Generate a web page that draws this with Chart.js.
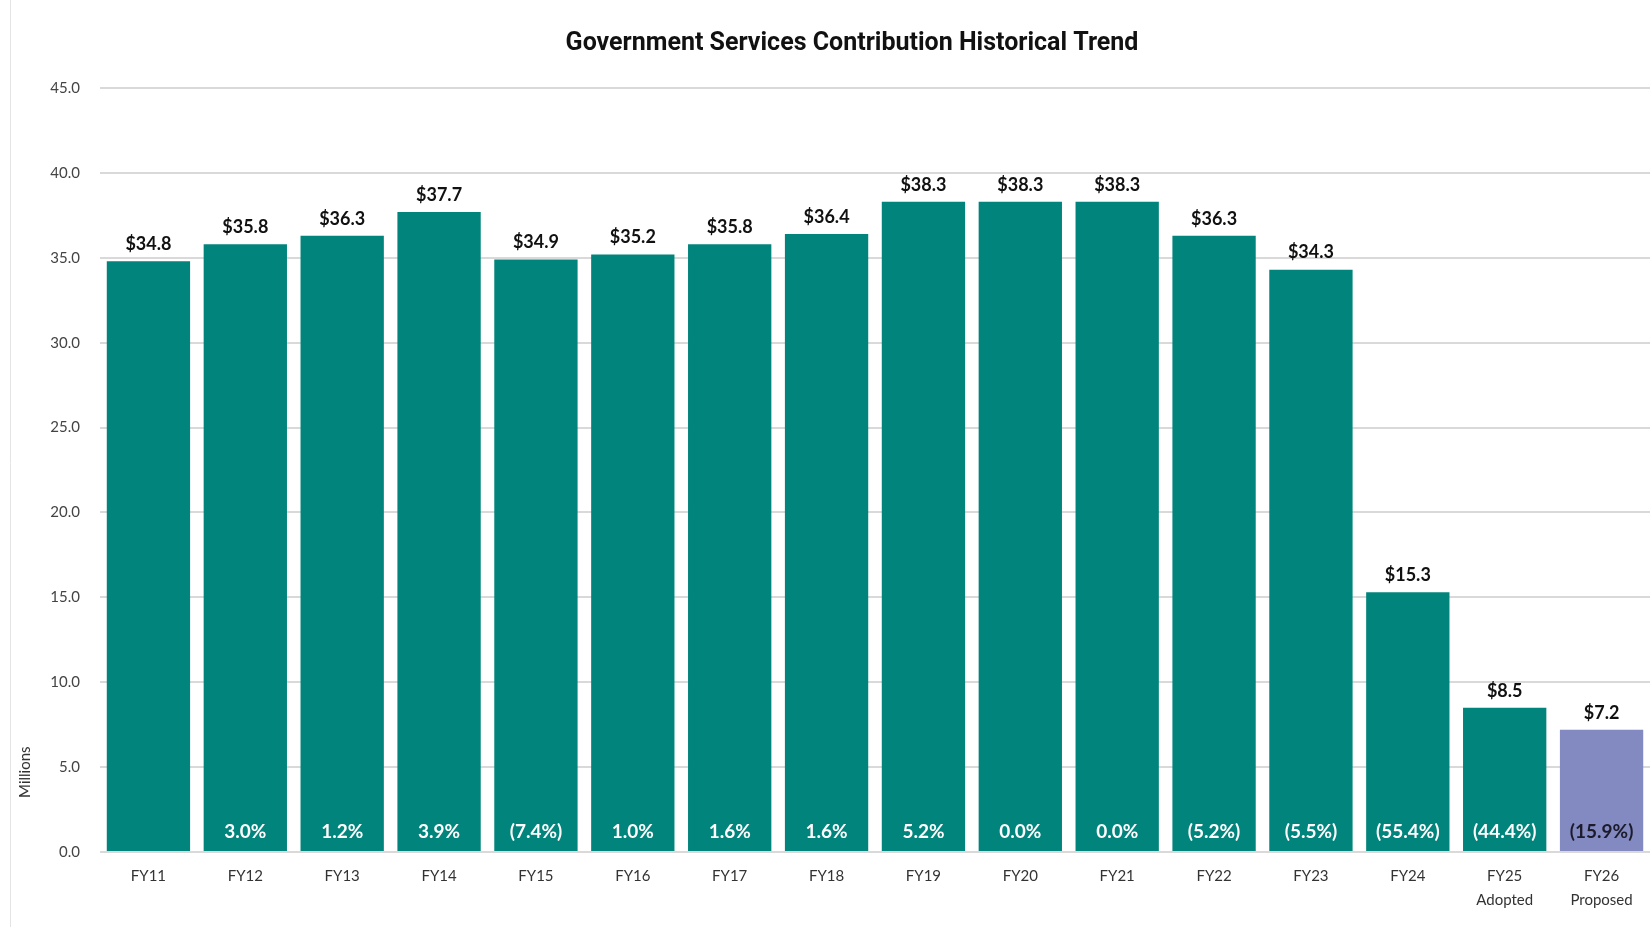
<!DOCTYPE html>
<html>
<head>
<meta charset="utf-8">
<script src="https://cdn.jsdelivr.net/npm/chart.js@4.4.0/dist/chart.umd.min.js"></script>
<style>
  html, body { margin: 0; padding: 0; background: #fff; }
  #wrap { position: relative; width: 1652px; height: 927px; }
</style>
</head>
<body>
<div id="wrap"><canvas id="chart" width="1652" height="927"></canvas></div>
<script>
/* Chart data */
const categories = [
  "FY11", "FY12", "FY13", "FY14", "FY15", "FY16", "FY17", "FY18",
  "FY19", "FY20", "FY21", "FY22", "FY23", "FY24",
  ["FY25", "Adopted"], ["FY26", "Proposed"]
];
const contributions = [34.8, 35.8, 36.3, 37.7, 34.9, 35.2, 35.8, 36.4, 38.3, 38.3, 38.3, 36.3, 34.3, 15.3, 8.5, 7.2];
const changeLabels = ["", "3.0%", "1.2%", "3.9%", "(7.4%)", "1.0%", "1.6%", "1.6%", "5.2%", "0.0%", "0.0%", "(5.2%)", "(5.5%)", "(55.4%)", "(44.4%)", "(15.9%)"];
const yTicks = [0, 5, 10, 15, 20, 25, 30, 35, 40, 45];

const TEAL = "#00847c";
const LAVENDER = "#8389c1";
const LABEL_FONT = "Lato, 'Open Sans', sans-serif";

/* Draws the value labels, the change labels and the odd bits of decoration */
const barLabels = {
  id: "barLabels",
  afterLayout(chart) {
    /* the title is centred over the area right of the y labels, so the
       padding pushes it; let the y axis keep the full left strip for its labels */
    chart.scales.y.left = 0;
  },
  beforeDraw(chart) {
    const ctx = chart.ctx;
    ctx.save();
    ctx.strokeStyle = "#e4e4e4";
    ctx.lineWidth = 1;
    ctx.beginPath();
    ctx.moveTo(10.5, 0);
    ctx.lineTo(10.5, chart.height);
    ctx.stroke();
    ctx.restore();
  },
  afterDatasetsDraw(chart) {
    const ctx = chart.ctx;
    const meta = chart.getDatasetMeta(0);
    const base = chart.scales.y.getPixelForValue(0);
    const last = contributions.length - 1;
    ctx.save();
    ctx.textAlign = "center";
    meta.data.forEach((bar, i) => {
      ctx.font = "bold 18px " + LABEL_FONT;
      ctx.fillStyle = "#111";
      ctx.textBaseline = "bottom";
      ctx.fillText("$" + contributions[i].toFixed(1), bar.x, bar.y - 8);
      if (changeLabels[i]) {
        ctx.font = "bold 19px " + LABEL_FONT;
        ctx.fillStyle = i === last ? "#1b1b2b" : "#ffffff";
        ctx.textBaseline = "middle";
        ctx.fillText(changeLabels[i], bar.x, base - 20);
      }
    });
    /* axis title sits low on the axis in the original */
    ctx.translate(25, chart.scales.y.getPixelForValue(4.7));
    ctx.rotate(-Math.PI / 2);
    ctx.font = "15px " + LABEL_FONT;
    ctx.fillStyle = "#333";
    ctx.textBaseline = "middle";
    ctx.fillText("Millions", 0, 0);
    ctx.restore();
  }
};

new Chart(document.getElementById("chart"), {
  type: "bar",
  data: {
    labels: categories,
    datasets: [{
      data: contributions,
      backgroundColor: ctx => ctx.dataIndex === contributions.length - 1 ? LAVENDER : TEAL,
      barPercentage: 0.86,
      categoryPercentage: 1
    }]
  },
  options: {
    responsive: false,
    animation: false,
    layout: { padding: { left: 54, right: 2, top: 0, bottom: 11 } },
    plugins: {
      legend: { display: false },
      tooltip: { enabled: false },
      title: {
        display: true,
        text: "Government Services Contribution Historical Trend",
        color: "#111",
        font: { family: "Roboto, sans-serif", size: 25, weight: "bold" },
        padding: { top: 29, bottom: 29 }
      }
    },
    scales: {
      x: {
        grid: { display: false },
        border: { display: false },
        ticks: {
          color: "#333",
          font: { family: LABEL_FONT, size: 15, lineHeight: 1.6 },
          padding: 4,
          maxRotation: 0,
          autoSkip: false
        }
      },
      y: {
        min: 0,
        max: 45,
        afterFit: scale => { scale.width = 46; },
        afterBuildTicks: scale => { scale.ticks = yTicks.map(v => ({ value: v })); },
        grid: { color: "#d9d9d9", lineWidth: 2, drawTicks: false },
        border: { display: false },
        ticks: {
          color: "#444",
          font: { family: LABEL_FONT, size: 15 },
          padding: 20,
          callback: v => v.toFixed(1)
        }
      }
    }
  },
  plugins: [barLabels]
});
</script>
</body>
</html>
